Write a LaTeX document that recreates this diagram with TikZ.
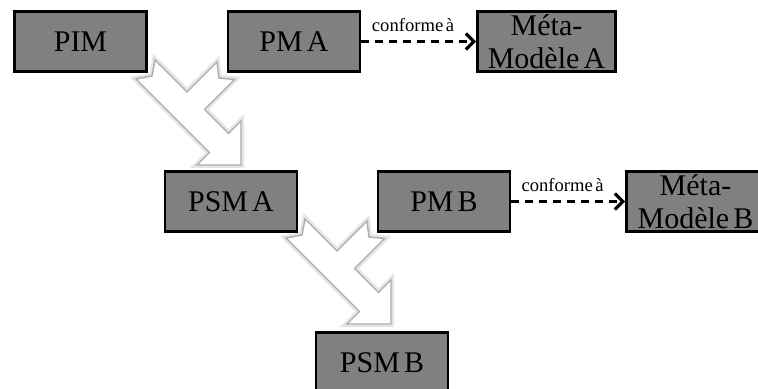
\documentclass[tikz,border=0pt]{standalone}
\usepackage{fontspec}
\setmainfont{Liberation Serif}[WordSpace=0.55]
\usetikzlibrary{arrows.meta}
\tikzset{
  modelbox/.style={draw=black, fill=gray, line width=1.4pt, inner sep=0pt,
    minimum width=66pt, minimum height=30pt, align=center,
    font=\fontsize{15}{16.5}\selectfont},
  metabox/.style={modelbox, minimum width=69pt},
  conform/.style={line width=1.4pt, dash pattern=on 4pt off 3pt,
    -{Straight Barb[length=4pt,width=8pt,line width=1.6pt]}},
  merge/.style={draw=gray!65, fill=white, line width=0.7pt, line join=miter,
    preaction={draw=gray!20, line width=3pt}},
}
\begin{document}
\begin{tikzpicture}[x=0.5pt, y=-0.5pt]
    \useasboundingbox (0,0) rectangle (758,389);
    \clip (0,0) rectangle (758,389);
    \draw[merge, shift={(148,73)}] (7,-13) -- (39,19) -- (69,-11) -- (71,5) -- (86.5,6.5)
        -- (56.5,36.5) -- (80.5,60.5) -- (93,48) -- (93,92) -- (49,92) -- (61.5,79.5)
        -- (-12,6) -- (4,3) -- cycle;
    \draw[merge, shift={(298,232)}] (7,-13) -- (39,19) -- (69,-11) -- (71,5) -- (86.5,6.5)
        -- (56.5,36.5) -- (80.5,60.5) -- (93,48) -- (93,92) -- (49,92) -- (61.5,79.5)
        -- (-12,6) -- (4,3) -- cycle;
    \node[modelbox] (pim) at (80.5,41.5) {PIM};
    \node[modelbox] (pma) at (294,41.5) {PM A};
    \node[metabox] (mma) at (546.5,41.5) {Méta-\\Modèle A};
    \node[modelbox] (psma) at (231,201.5) {PSM A};
    \node[modelbox] (pmb) at (444,201.5) {PM B};
    \node[metabox] (mmb) at (695.5,201.5) {Méta-\\Modèle B};
    \node[modelbox] (psmb) at (382,362.5) {PSM B};
    \draw[conform] (pma) -- node[above=1pt, pos=0.45, font=\fontsize{9.3}{10}\selectfont] {conforme à} (mma);
    \draw[conform] (pmb) -- node[above=1pt, pos=0.45, font=\fontsize{9.3}{10}\selectfont] {conforme à} (mmb);
\end{tikzpicture}
\end{document}
